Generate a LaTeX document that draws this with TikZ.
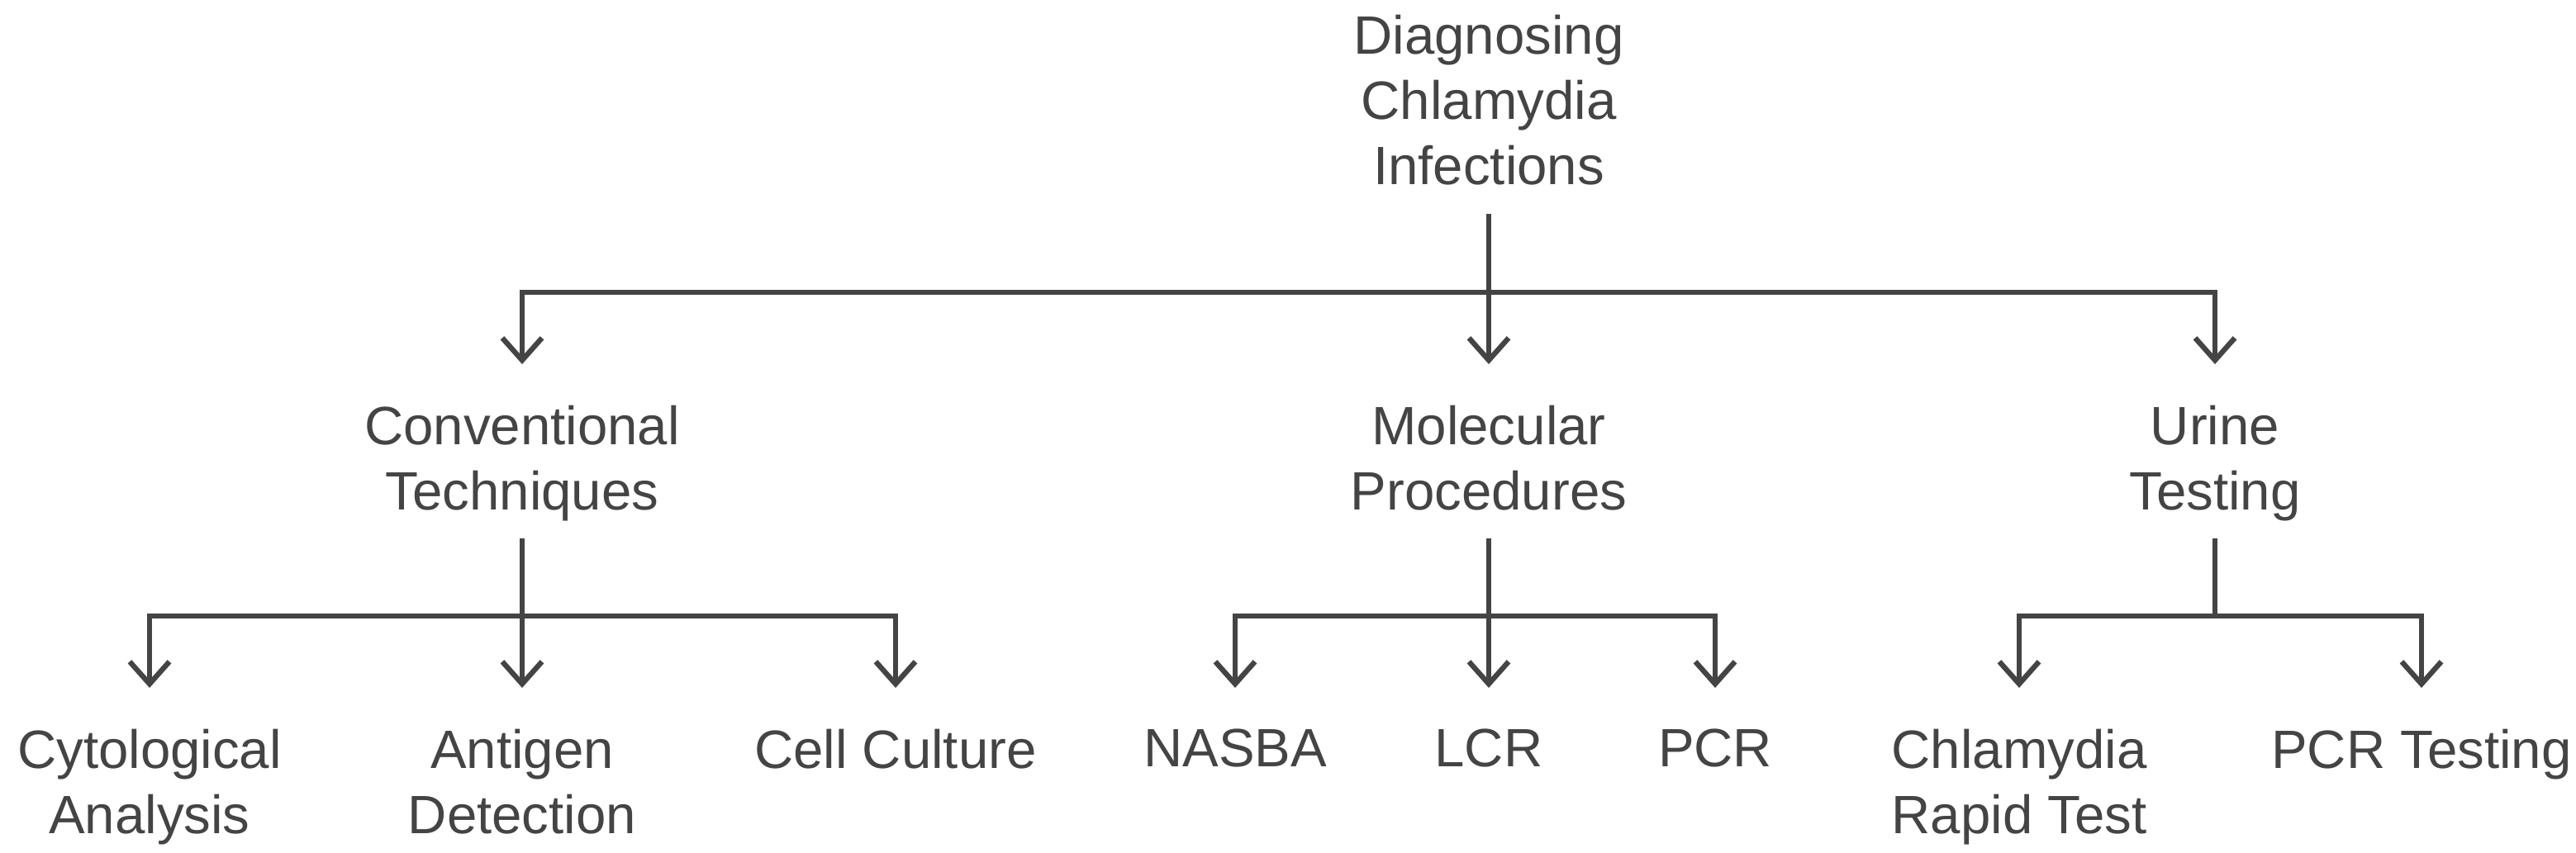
\documentclass[tikz,border=0pt]{standalone}
\usepackage{fontspec}
\setmainfont{Liberation Sans}
\usetikzlibrary{arrows.meta}
\definecolor{ink}{HTML}{444444}
\tikzset{
    topic/.style={text=ink,align=center,anchor=north,inner sep=0pt,text depth=0.14cm,
        font=\fontsize{18.6}{22.6}\selectfont},
    stem/.style={draw=ink,line width=1.8pt,shorten <=0.2cm},
    branch/.style={draw=ink,line width=1.8pt,-{Straight Barb[length=0.27cm,width=0.48cm]},
        shorten >=0.49cm}
}

\begin{document}
\begin{tikzpicture}
\useasboundingbox (0,0) rectangle (31.18,-10.32);
% levels
\node[topic] (root) at (18.02,-0.17) {Diagnosing\\Chlamydia\\Infections};
\node[topic] (conv) at (6.32,-4.90) {Conventional\\Techniques};
\node[topic] (mol) at (18.02,-4.90) {Molecular\\Procedures};
\node[topic] (urine) at (26.81,-4.90) {Urine\\Testing};
\node[topic] (cyto) at (1.81,-8.82) {Cytological\\Analysis};
\node[topic] (antigen) at (6.32,-8.82) {Antigen\\Detection};
\node[topic] (culture) at (10.84,-8.82) {Cell Culture};
\node[topic] (nasba) at (14.95,-8.82) {NASBA};
\node[topic] (lcr) at (18.02,-8.82) {LCR};
\node[topic] (pcr) at (20.76,-8.82) {PCR};
\node[topic] (rapid) at (24.44,-8.82) {Chlamydia\\Rapid Test};
\node[topic] (pcrtest) at (29.31,-8.82) {PCR Testing};

\coordinate (rootfork) at (18.02,-3.54);
\coordinate (convfork) at (6.32,-7.46);
\coordinate (molfork) at (18.02,-7.46);
\coordinate (urinefork) at (26.81,-7.46);

\draw[stem] (root) -- (rootfork);
\foreach \n in {conv,mol,urine}
    \draw[branch] (rootfork) -| (\n);

\draw[stem] (conv) -- (convfork);
\foreach \n in {cyto,antigen,culture}
    \draw[branch] (convfork) -| (\n);

\draw[stem] (mol) -- (molfork);
\foreach \n in {nasba,lcr,pcr}
    \draw[branch] (molfork) -| (\n);

\draw[stem] (urine) -- (urinefork);
\foreach \n in {rapid,pcrtest}
    \draw[branch] (urinefork) -| (\n);
\end{tikzpicture}
\end{document}
